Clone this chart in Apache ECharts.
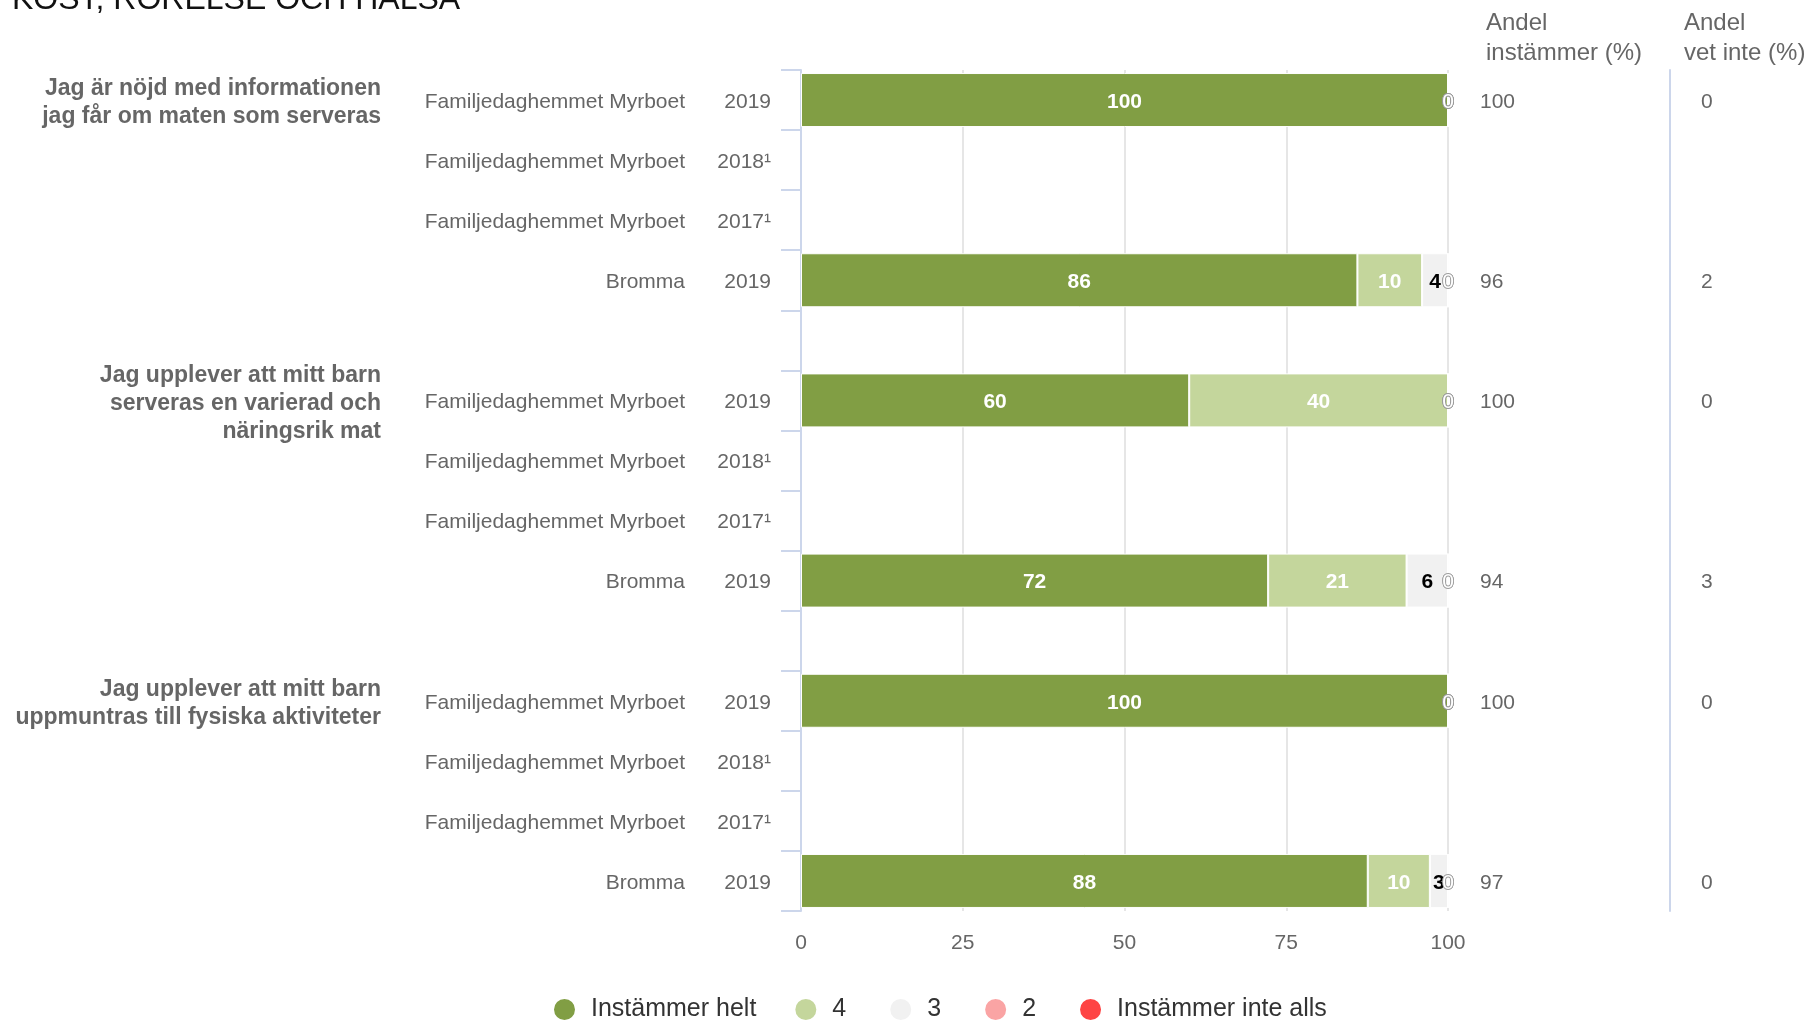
<!DOCTYPE html>
<html>
<head>
<meta charset="utf-8">
<title>Kost, rörelse och hälsa</title>
<script src="https://cdn.jsdelivr.net/npm/echarts@6/dist/echarts.min.js"></script>
<style>
  html, body { margin: 0; padding: 0; background: #fff; }
  #chart { width: 1810px; height: 1020px; }
</style>
</head>
<body>
<div id="chart"></div>
<script>
// rader (tom rad mellan frågorna)
const units = ['Familjedaghemmet Myrboet', 'Familjedaghemmet Myrboet', 'Familjedaghemmet Myrboet', 'Bromma', '',
  'Familjedaghemmet Myrboet', 'Familjedaghemmet Myrboet', 'Familjedaghemmet Myrboet', 'Bromma', '',
  'Familjedaghemmet Myrboet', 'Familjedaghemmet Myrboet', 'Familjedaghemmet Myrboet', 'Bromma'];
const years = ['2019', '2018¹', '2017¹', '2019', '',
  '2019', '2018¹', '2017¹', '2019', '',
  '2019', '2018¹', '2017¹', '2019'];
const questions = {
  0: 'Jag är nöjd med informationen\njag får om maten som serveras',
  5: 'Jag upplever att mitt barn\nserveras en varierad och\nnäringsrik mat',
  10: 'Jag upplever att mitt barn\nuppmuntras till fysiska aktiviteter'
};

const seriesNames = ['Instämmer helt', '4', '3', '2', 'Instämmer inte alls'];
const seriesColors = ['#819e44', '#c4d69c', '#f1f1f1', '#faa4a4', '#fe4444'];
const labelColors = ['#fff', '#fff', '#000', '#000', '#fff'];

const helt = [100, null, null, 86, null, 60, null, null, 72.2, null, 100, null, null, 87.6];
const fyra = [0, null, null, 10, null, 40, null, null, 21.4, null, 0, null, null, 9.6];
const tre = [0, null, null, 4, null, 0, null, null, 6.4, null, 0, null, null, 2.8];
const tva = [0, null, null, 0, null, 0, null, null, 0, null, 0, null, null, 0];
const inteAlls = [0, null, null, 0, null, 0, null, null, 0, null, 0, null, null, 0];

const andelInstammer = [100, null, null, 96, null, 100, null, null, 94, null, 100, null, null, 97];
const andelVetInte = [0, null, null, 2, null, 0, null, null, 3, null, 0, null, null, 0];

const xTicks = [0, 25, 50, 75, 100];

const FONT = '"Liberation Sans", Arial, sans-serif';
const rowKeys = units.map((u, i) => String(i));

// nollor visas som vit text med grå kant vid stapelns slut
const zeroLabel = { color: '#fff', textBorderColor: '#999', textBorderWidth: 1.5, fontWeight: 'normal' };
const toData = arr => arr.map(v => (v === null ? '-' : v === 0 ? { value: 0, label: zeroLabel } : v));

const grey = { fontFamily: FONT, fontSize: 21, color: '#666' };

const chart = echarts.init(document.getElementById('chart'));

const series = [helt, fyra, tre, tva, inteAlls].map((arr, k) => ({
  name: seriesNames[k],
  type: 'bar',
  stack: 'total',
  barWidth: 54,
  data: toData(arr),
  itemStyle: { color: seriesColors[k], borderColor: '#fff', borderWidth: 1 },
  label: {
    show: true,
    position: 'inside',
    offset: [0, 2],
    fontFamily: FONT,
    fontSize: 21,
    fontWeight: 'bold',
    color: labelColors[k],
    formatter: p => String(Math.round(p.value))
  },
  emphasis: { disabled: true }
}));

chart.setOption({
  animation: false,
  textStyle: { fontFamily: FONT },
  grid: { left: 801, right: 362, top: 70, bottom: 109 },
  legend: {
    data: seriesNames,
    left: 547,
    top: 992,
    icon: 'circle',
    itemWidth: 43,
    itemHeight: 23,
    itemGap: 37,
    // korta namn (4, 3, 2) får lite extra luft efter sig
    formatter: name => (name.length === 1 ? name + '\u2009' : name),
    textStyle: { fontFamily: FONT, fontSize: 25, color: '#333' }
  },
  graphic: [
    {
      type: 'text', left: 12, top: -16,
      style: { text: 'KOST, RÖRELSE OCH HÄLSA', font: '32px ' + FONT, fill: '#111' }
    },
    {
      type: 'text', left: 1486, top: 8,
      style: { text: 'Andel\ninstämmer (%)', font: '24px ' + FONT, lineHeight: 30, fill: '#666' }
    },
    {
      type: 'text', left: 1684, top: 8,
      style: { text: 'Andel\nvet inte (%)', font: '24px ' + FONT, lineHeight: 30, fill: '#666' }
    }
  ],
  xAxis: {
    type: 'value',
    min: xTicks[0],
    max: xTicks[xTicks.length - 1],
    interval: 25,
    axisLine: { show: false },
    axisTick: { show: false },
    axisLabel: { margin: 22, fontSize: 21, color: '#666', fontFamily: FONT },
    splitLine: { lineStyle: { color: '#e6e6e6', width: 2 } }
  },
  yAxis: [
    {
      // enhet + år
      type: 'category',
      data: rowKeys,
      inverse: true,
      position: 'left',
      axisLine: { show: true, lineStyle: { color: '#ccd6eb', width: 2 } },
      axisTick: { show: true, length: 20, lineStyle: { color: '#ccd6eb', width: 2 } },
      axisLabel: {
        margin: 30,
        padding: [4, 0, 0, 0],
        formatter: (v, i) => (units[i] ? '{n|' + units[i] + '}{y|' + years[i] + '}' : ''),
        rich: {
          n: grey,
          y: Object.assign({ width: 86, align: 'right' }, grey)
        }
      }
    },
    {
      // frågetexter
      type: 'category',
      data: rowKeys,
      inverse: true,
      position: 'left',
      offset: 0,
      axisLine: { show: false },
      axisTick: { show: false },
      axisLabel: {
        margin: 420,
        interval: 0,
        padding: [6, 0, 0, 0],
        align: 'right',
        formatter: (v, i) => (questions[i] ? '{q|' + questions[i] + '}' : ''),
        rich: {
          q: { fontFamily: FONT, fontSize: 23, fontWeight: 'bold', lineHeight: 28, color: '#666', align: 'right' }
        }
      }
    },
    {
      // andel instämmer
      type: 'category',
      data: rowKeys,
      inverse: true,
      position: 'right',
      offset: 0,
      axisLine: { show: false },
      axisTick: { show: false },
      axisLabel: {
        margin: 32,
        interval: 0,
        padding: [4, 0, 0, 0],
        formatter: (v, i) => (andelInstammer[i] === null ? '' : '{v|' + andelInstammer[i] + '}'),
        rich: { v: grey }
      }
    },
    {
      // andel vet inte
      type: 'category',
      data: rowKeys,
      inverse: true,
      position: 'right',
      offset: 222,
      axisLine: { show: true, lineStyle: { color: '#ccd6eb', width: 2 } },
      axisTick: { show: false },
      axisLabel: {
        margin: 31,
        interval: 0,
        padding: [4, 0, 0, 0],
        formatter: (v, i) => (andelVetInte[i] === null ? '' : '{v|' + andelVetInte[i] + '}'),
        rich: { v: grey }
      }
    }
  ],
  series: series
});
</script>
</body>
</html>
